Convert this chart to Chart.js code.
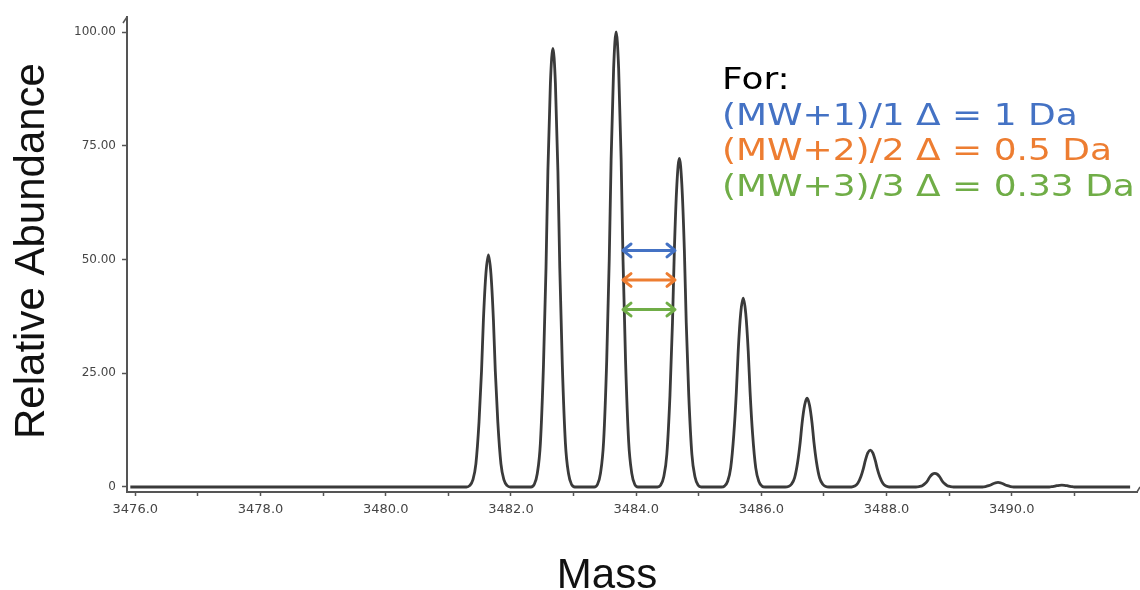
<!DOCTYPE html>
<html>
<head>
<meta charset="utf-8">
<title>Isotope envelope</title>
<script src="https://cdn.jsdelivr.net/npm/chart.js@4.4.1/dist/chart.umd.min.js"></script>
<style>
  html, body { margin: 0; padding: 0; background: #fff; }
</style>
</head>
<body>
<canvas id="spectrum" width="1140" height="590"></canvas>
<script>
// profile trace, one row per isotope peak
const massPoints = [
    3475.92,
    3481.29, 3481.34, 3481.39, 3481.44, 3481.49, 3481.53, 3481.56, 3481.60, 3481.64, 3481.68, 3481.72, 3481.75, 3481.79, 3481.84, 3481.89, 3481.94, 3481.99,
    3482.32, 3482.37, 3482.42, 3482.47, 3482.52, 3482.56, 3482.59, 3482.63, 3482.67, 3482.71, 3482.75, 3482.78, 3482.82, 3482.87, 3482.92, 3482.97, 3483.02,
    3483.33, 3483.38, 3483.43, 3483.48, 3483.53, 3483.57, 3483.60, 3483.64, 3483.68, 3483.72, 3483.76, 3483.79, 3483.83, 3483.88, 3483.93, 3483.98, 3484.03,
    3484.34, 3484.39, 3484.44, 3484.49, 3484.54, 3484.58, 3484.61, 3484.65, 3484.69, 3484.73, 3484.77, 3484.80, 3484.84, 3484.89, 3484.94, 3484.99, 3485.04,
    3485.36, 3485.41, 3485.46, 3485.51, 3485.56, 3485.60, 3485.63, 3485.67, 3485.71, 3485.75, 3485.79, 3485.82, 3485.86, 3485.91, 3485.96, 3486.01, 3486.06,
    3486.38, 3486.43, 3486.48, 3486.53, 3486.58, 3486.62, 3486.65, 3486.69, 3486.73, 3486.77, 3486.81, 3486.84, 3486.88, 3486.93, 3486.98, 3487.03, 3487.08,
    3487.39, 3487.44, 3487.49, 3487.54, 3487.59, 3487.63, 3487.66, 3487.70, 3487.74, 3487.78, 3487.82, 3487.85, 3487.89, 3487.94, 3487.99, 3488.04, 3488.09,
    3488.42, 3488.47, 3488.52, 3488.57, 3488.62, 3488.66, 3488.69, 3488.73, 3488.77, 3488.81, 3488.85, 3488.88, 3488.92, 3488.97, 3489.02, 3489.07, 3489.12,
    3489.43, 3489.48, 3489.53, 3489.58, 3489.63, 3489.67, 3489.70, 3489.74, 3489.78, 3489.82, 3489.86, 3489.89, 3489.93, 3489.98, 3490.03, 3490.08, 3490.13,
    3490.45, 3490.50, 3490.55, 3490.60, 3490.65, 3490.69, 3490.72, 3490.76, 3490.80, 3490.84, 3490.88, 3490.91, 3490.95, 3491.00, 3491.05, 3491.10, 3491.15,
    3491.89
];
const abundancePoints = [
    0,
    0, 0.3, 1.5, 5.1, 14.3, 25.5, 36.7, 46.9, 51.0, 46.9, 36.7, 25.5, 14.3, 5.1, 1.5, 0.3, 0,
    0, 0.5, 2.9, 9.6, 27.0, 48.2, 69.4, 88.7, 96.4, 88.7, 69.4, 48.2, 27.0, 9.6, 2.9, 0.5, 0,
    0, 0.5, 3.0, 10.0, 28.0, 50.0, 72.0, 92.0, 100.0, 92.0, 72.0, 50.0, 28.0, 10.0, 3.0, 0.5, 0,
    0, 0.4, 2.2, 7.2, 20.2, 36.1, 52.0, 66.4, 72.2, 66.4, 52.0, 36.1, 20.2, 7.2, 2.2, 0.4, 0,
    0, 0.2, 1.2, 4.2, 11.6, 20.8, 29.9, 38.2, 41.5, 38.2, 29.9, 20.8, 11.6, 4.2, 1.2, 0.2, 0,
    0, 0.1, 0.6, 2.0, 5.5, 9.8, 14.0, 17.9, 19.5, 17.9, 14.0, 9.8, 5.5, 2.0, 0.6, 0.1, 0,
    0, 0, 0.2, 0.8, 2.3, 4.1, 5.8, 7.5, 8.1, 7.5, 5.8, 4.1, 2.3, 0.8, 0.2, 0, 0,
    0, 0, 0.1, 0.3, 0.8, 1.5, 2.2, 2.8, 3.0, 2.8, 2.2, 1.5, 0.8, 0.3, 0.1, 0, 0,
    0, 0, 0, 0.1, 0.3, 0.5, 0.7, 0.9, 1.0, 0.9, 0.7, 0.5, 0.3, 0.1, 0, 0, 0,
    0, 0, 0, 0, 0.1, 0.2, 0.3, 0.37, 0.4, 0.37, 0.3, 0.2, 0.1, 0, 0, 0, 0,
    0
];

const xTicks = [3476, 3477, 3478, 3479, 3480, 3481, 3482, 3483, 3484, 3485, 3486, 3487, 3488, 3489, 3490, 3491];
const xTickLabels = ['3476.0', '', '3478.0', '', '3480.0', '', '3482.0', '', '3484.0', '', '3486.0', '', '3488.0', '', '3490.0', ''];
const yTicks = [0, 25, 50, 75, 100];
const yTickLabels = ['0', '25.00', '50.00', '75.00', '100.00'];

// spacing arrows between the 3483.7 and 3484.7 peaks
const arrowFrom = 3483.79;
const arrowTo = 3484.62;
const arrowLevels = [52, 45.5, 39];
const noteLines = ['For:', '(MW+1)/1 \u0394 = 1 Da', '(MW+2)/2 \u0394 = 0.5 Da', '(MW+3)/3 \u0394 = 0.33 Da'];
const noteColors = ['#000000', '#4472c4', '#ed7d31', '#70ad47'];

const axisColor = '#555555';

function drawArrow(ctx, x1, x2, y, color) {
    const head = 8;
    ctx.save();
    ctx.strokeStyle = color;
    ctx.lineWidth = 3;
    ctx.lineCap = 'round';
    ctx.lineJoin = 'round';
    ctx.beginPath();
    ctx.moveTo(x1, y);
    ctx.lineTo(x2, y);
    ctx.moveTo(x1 + head, y - head * 0.8);
    ctx.lineTo(x1, y);
    ctx.lineTo(x1 + head, y + head * 0.8);
    ctx.moveTo(x2 - head, y - head * 0.8);
    ctx.lineTo(x2, y);
    ctx.lineTo(x2 - head, y + head * 0.8);
    ctx.stroke();
    ctx.restore();
}

const overlay = {
    id: 'overlay',
    afterDraw(chart) {
        const ctx = chart.ctx;
        const x = chart.scales.x;
        const y = chart.scales.y;
        const area = chart.chartArea;

        // little barbs at the axis ends
        ctx.save();
        ctx.strokeStyle = axisColor;
        ctx.lineWidth = 1.5;
        ctx.beginPath();
        ctx.moveTo(area.left, area.top);
        ctx.lineTo(area.left - 4, area.top + 6);
        ctx.moveTo(area.right, area.bottom);
        ctx.lineTo(area.right + 3, area.bottom - 5);
        ctx.stroke();
        ctx.restore();

        arrowLevels.forEach((lvl, i) => {
            drawArrow(ctx, x.getPixelForValue(arrowFrom), x.getPixelForValue(arrowTo),
                y.getPixelForValue(lvl), noteColors[i + 1]);
        });

        // note block
        ctx.save();
        ctx.font = '31px "DejaVu Sans"';
        ctx.textBaseline = 'alphabetic';
        ctx.textAlign = 'left';
        noteLines.forEach((line, i) => {
            ctx.save();
            ctx.translate(722, 89 + i * 35.5);
            ctx.scale(1.16, 1);
            ctx.fillStyle = noteColors[i];
            ctx.fillText(line, 0, 0);
            ctx.restore();
        });
        ctx.restore();

        // axis titles
        ctx.save();
        ctx.fillStyle = '#111111';
        ctx.font = '42px "Liberation Sans"';
        ctx.textAlign = 'center';
        ctx.textBaseline = 'alphabetic';
        ctx.fillText('Mass', 607, 588);
        ctx.translate(44, 251);
        ctx.rotate(-Math.PI / 2);
        ctx.fillText('Relative Abundance', 0, 0);
        ctx.restore();
    }
};

new Chart(document.getElementById('spectrum'), {
    type: 'line',
    data: {
        datasets: [{
            label: 'Relative Abundance',
            data: massPoints.map((m, i) => ({ x: m, y: abundancePoints[i] })),
            borderColor: '#3a3a3a',
            borderWidth: 2.8,
            pointRadius: 0,
            fill: false,
            cubicInterpolationMode: 'monotone'
        }]
    },
    options: {
        responsive: false,
        animation: false,
        layout: { padding: { left: 0, top: 17, right: 3, bottom: 0 } },
        plugins: {
            legend: { display: false },
            tooltip: { enabled: false }
        },
        scales: {
            x: {
                type: 'linear',
                min: 3475.867,
                max: 3492.0,
                afterFit: (s) => { s.height = 98; },
                afterBuildTicks: (s) => { s.ticks = xTicks.map(v => ({ value: v })); },
                grid: { drawOnChartArea: false, tickLength: 4, tickColor: axisColor, tickWidth: 1.5 },
                border: { color: axisColor, width: 2 },
                ticks: {
                    autoSkip: false,
                    maxRotation: 0,
                    padding: 6,
                    color: '#454545',
                    font: { family: 'DejaVu Sans', size: 13 },
                    callback: (v, i) => xTickLabels[i]
                }
            },
            y: {
                min: -1.1,
                max: 103.3,
                afterFit: (s) => { s.width = 127; },
                afterBuildTicks: (s) => { s.ticks = yTicks.map(v => ({ value: v })); },
                grid: { drawOnChartArea: false, tickLength: 5, tickColor: axisColor, tickWidth: 1.5 },
                border: { color: axisColor, width: 2 },
                ticks: {
                    padding: 6,
                    color: '#454545',
                    font: { family: 'DejaVu Sans', size: 12 },
                    callback: (v, i) => yTickLabels[i]
                }
            }
        }
    },
    plugins: [overlay]
});
</script>
</body>
</html>
